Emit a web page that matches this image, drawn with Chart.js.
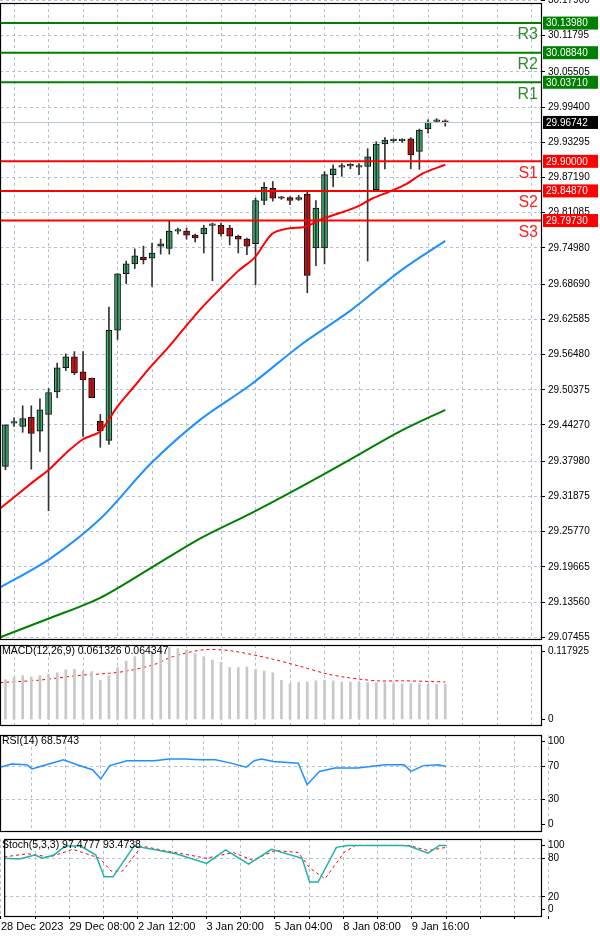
<!DOCTYPE html>
<html><head><meta charset="utf-8">
<script src="https://cdn.jsdelivr.net/npm/chart.js@4"></script>
<style>
body{margin:0;background:#fff;width:600px;height:938px;overflow:hidden;position:relative;font-family:"Liberation Sans",Arial,sans-serif}
.p{position:absolute;left:0;width:600px}
.lbl{position:absolute;left:2px;font-size:10.5px;color:#000;font-family:"Liberation Sans",Arial,sans-serif;white-space:nowrap}
</style></head><body>
<div class="p" style="top:-6px;height:654px"><canvas id="c1"></canvas></div>
<div class="p" style="top:636px;height:98px"><canvas id="c2"></canvas></div>
<div class="p" style="top:726px;height:114px"><canvas id="c3"></canvas></div>
<div class="p" style="top:830px;height:108px"><canvas id="c4"></canvas></div>
<div class="lbl" style="top:644px">MACD(12,26,9) 0.061326 0.064347</div>
<div class="lbl" style="top:734px">RSI(14) 68.5743</div>
<div class="lbl" style="top:838px">Stoch(5,3,3) 97.4777 93.4738</div>
<script>
const openV=[29.371,29.446,29.440,29.456,29.432,29.461,29.500,29.542,29.561,29.535,29.524,29.449,29.416,29.607,29.705,29.722,29.734,29.732,29.753,29.749,29.779,29.779,29.772,29.774,29.789,29.789,29.784,29.770,29.765,29.757,29.832,29.853,29.837,29.837,29.834,29.843,29.750,29.750,29.877,29.890,29.892,29.890,29.891,29.851,29.930,29.936,29.936,29.939,29.917,29.956,29.969,29.970];
const highV=[29.443,29.455,29.476,29.476,29.488,29.506,29.550,29.566,29.570,29.570,29.524,29.461,29.647,29.705,29.727,29.748,29.753,29.758,29.765,29.796,29.784,29.784,29.774,29.789,29.793,29.793,29.789,29.772,29.767,29.836,29.863,29.865,29.839,29.839,29.841,29.848,29.832,29.882,29.894,29.896,29.896,29.896,29.922,29.934,29.941,29.939,29.939,29.941,29.956,29.972,29.974,29.972];
const lowV=[29.365,29.440,29.430,29.366,29.397,29.294,29.490,29.537,29.530,29.423,29.490,29.404,29.409,29.591,29.688,29.714,29.722,29.683,29.739,29.739,29.774,29.765,29.760,29.741,29.693,29.770,29.755,29.741,29.738,29.686,29.825,29.831,29.834,29.825,29.832,29.672,29.719,29.722,29.856,29.874,29.887,29.877,29.727,29.851,29.887,29.933,29.933,29.887,29.886,29.949,29.967,29.961];
const closeV=[29.443,29.448,29.454,29.428,29.469,29.499,29.542,29.561,29.533,29.521,29.490,29.433,29.607,29.705,29.722,29.736,29.729,29.741,29.757,29.779,29.780,29.772,29.767,29.784,29.790,29.774,29.770,29.765,29.753,29.832,29.855,29.836,29.836,29.832,29.837,29.702,29.819,29.877,29.887,29.891,29.893,29.891,29.908,29.930,29.937,29.937,29.937,29.911,29.954,29.968,29.972,29.96742];
const maRedX=[-0.7,3.2,5.1,7.1,9,11,13,14.9,16.8,18.8,20.7,22.7,24.7,27,28.9,30.9,32.9,34.7,36.7,38.7,40.6,42.6,44.6,46.4,48.4,51];
const maRedY=[29.297,29.344,29.366,29.395,29.418,29.432,29.475,29.509,29.543,29.576,29.610,29.645,29.676,29.710,29.733,29.774,29.784,29.786,29.800,29.810,29.820,29.836,29.848,29.860,29.879,29.894];
const maX=[-0.7,5.2,11,16.8,22.6,28.4,34.2,40,45.8,51];
const maBlueY=[29.160,29.211,29.280,29.375,29.452,29.512,29.581,29.641,29.710,29.762];
const maGreenY=[29.074,29.108,29.143,29.194,29.246,29.289,29.335,29.383,29.432,29.469];
const priceTicks=[30.17900,30.11795,30.05505,29.99400,29.93295,29.87190,29.81085,29.74980,29.68690,29.62585,29.56480,29.50375,29.44270,29.37980,29.31875,29.25770,29.19665,29.13560,29.07455];
const levelNames=["R3","R2","R1","S1","S2","S3"];
const levelValues=[30.13980,30.08840,30.03710,29.90000,29.84870,29.79730];
const lastPrice=29.96742;
const macdHist=[0.069,0.073,0.076,0.074,0.076,0.079,0.081,0.086,0.087,0.084,0.083,0.068,0.076,0.090,0.101,0.109,0.114,0.118,0.123,0.125,0.123,0.121,0.114,0.109,0.103,0.099,0.090,0.090,0.091,0.087,0.084,0.081,0.068,0.062,0.064,0.065,0.067,0.068,0.067,0.065,0.065,0.065,0.064,0.064,0.064,0.062,0.062,0.062,0.062,0.061,0.061,0.061];
const macdSigX=[-0.6,3.8,8.3,11.9,14.1,17.2,19.4,23,26.2,30.6,34.2,37.3,39.5,43.1,46.2,51];
const macdSigY=[0.064,0.068,0.076,0.080,0.084,0.095,0.109,0.121,0.119,0.106,0.092,0.079,0.073,0.067,0.067,0.065];
const rsiZX=[0,30,70,83,120,165,200,240,262,285,330,400,440,480,520,560,600,640,660,680,710,775,798,830,870,930,1000,1050,1068,1100,1140,1158];
const rsiY=[69,73,72,67,72,78,72,66,55,71,77,77,79,79,78,78,74,69,77,79,76,74,48,64,68,68,72,72,64,71,72,70];
const stKZX=[0,40,80,100,130,160,200,240,262,285,340,400,450,530,580,640,700,780,800,822,870,900,980,1040,1060,1110,1140,1158];
const stKY=[80,79,85,80,85,99,99,85,51,51,99,93,87,72,93,71,94,80,43,43,97,100,100,100,99,88,100,100];
const stDZX=[0,60,120,180,250,280,310,360,420,530,600,650,710,770,800,840,890,920,1000,1060,1110,1158];
const stDY=[82,87,82,94,80,60,60,99,92,80,89,77,92,89,65,48,89,100,100,100,92,97];
const timeLabels={"-1":"28 Dec 2023","7":"29 Dec 08:00","15":"2 Jan 12:00","23":"3 Jan 20:00","31":"5 Jan 04:00","39":"8 Jan 08:00","47":"9 Jan 16:00"};

const zxToIdx=z=>(z/2.6-5.4)/8.62;
const pts=(xs,ys)=>xs.map((x,i)=>({x:x,y:ys[i]}));
const XMIN=-0.63,XMAX=62.1;
const FONT={family:"Liberation Sans",size:10};
const gridTicks=[];for(let i=-1;i<=63;i+=4)gridTicks.push(i);
function xScale(show){
  return {type:'linear',min:XMIN,max:XMAX,offset:false,
    afterBuildTicks:s=>{s.ticks=gridTicks.map(v=>({value:v}));},
    grid:{color:'#b4c0d4',lineWidth:1,drawTicks:show,tickLength:show?3:0,tickColor:'#000'},
    border:{display:false,dash:[3,3]},
    ticks:{display:show,autoSkip:false,maxRotation:0,align:'start',padding:1,color:'#000',font:{family:"Liberation Sans",size:11},
      callback:v=>timeLabels[String(v)]||''},
    afterFit:s=>{if(!show)s.height=0;else s.height=22;}};
}
function yScale(min,max,ticks,gridVals,fmt){
  return {type:'linear',position:'right',min:min,max:max,
    afterBuildTicks:s=>{s.ticks=ticks.map(v=>({value:v}));},
    afterFit:s=>{s.width=59;},
    grid:{color:ctx=>(gridVals===null||gridVals.includes(ctx.tick&&ctx.tick.value))?'#b4c0d4':'rgba(0,0,0,0)',drawTicks:true,tickLength:4,tickColor:'#000'},
    border:{display:false,dash:[3,3]},
    ticks:{color:'#000',font:FONT,padding:3,callback:fmt}};
}
const framePlugin={id:'frame',afterDraw(c){const a=c.chartArea,x=c.ctx;x.save();x.strokeStyle='#000';x.lineWidth=1.2;x.strokeRect(a.left+0.5,a.top+0.5,a.right-a.left,a.bottom-a.top);x.restore();}};
Chart.defaults.animation=false;
Chart.defaults.responsive=true;Chart.defaults.maintainAspectRatio=false;
Chart.defaults.plugins.legend.display=false;Chart.defaults.plugins.tooltip.enabled=false;
const opt=(x,y)=>({layout:{padding:0},scales:{x:x,y:y}});

const levelPlugin={id:'levels',afterDatasetsDraw(c){
  const ys=c.scales.y,a=c.chartArea,ctx=c.ctx;ctx.save();
  let py=Math.round(ys.getPixelForValue(lastPrice))+0.5;
  ctx.strokeStyle='#b8c4d4';ctx.lineWidth=1;ctx.beginPath();ctx.moveTo(a.left,py);ctx.lineTo(a.right,py);ctx.stroke();
  levelValues.forEach((v,i)=>{const y=ys.getPixelForValue(v);const col=levelNames[i][0]==='R'?'#008000':'#ff0000';
    ctx.strokeStyle=col;ctx.lineWidth=2;ctx.beginPath();ctx.moveTo(a.left,y);ctx.lineTo(a.right,y);ctx.stroke();
    ctx.fillStyle=levelNames[i][0]==='R'?'#2e8b2e':'#ff2020';ctx.font='16px "Liberation Sans"';ctx.textAlign='right';ctx.textBaseline='middle';
    ctx.fillText(levelNames[i],a.right-3,y+12);});
  ctx.restore();
},afterDraw(c){
  const ys=c.scales.y,a=c.chartArea,ctx=c.ctx;ctx.save();
  const box=(v,bg)=>{const y=ys.getPixelForValue(v);ctx.fillStyle=bg;ctx.fillRect(a.right+2,y-6.5,55,13);
    ctx.fillStyle='#fff';ctx.font='10px "Liberation Sans"';ctx.textAlign='left';ctx.textBaseline='middle';ctx.fillText(v.toFixed(5),a.right+5,y+0.5);};
  levelValues.forEach((v,i)=>box(v,levelNames[i][0]==='R'?'#008000':'#ff0000'));
  box(lastPrice,'#000');
  ctx.restore();
}};

const idx=openV.map((_,i)=>i);
const bodyCol=idx.map(i=>closeV[i]>=openV[i]?'#3cb371':'#ff0000');
new Chart(document.getElementById('c1'),{type:'bar',
  data:{datasets:[
    {type:'line',data:pts(maX,maGreenY),borderColor:'#008000',borderWidth:2,pointRadius:0,tension:0.3},
    {type:'line',data:pts(maX,maBlueY),borderColor:'#1e90ff',borderWidth:2,pointRadius:0,tension:0.3},
    {type:'line',data:pts(maRedX,maRedY),borderColor:'#ff0000',borderWidth:2,pointRadius:0,tension:0.3},
    {data:idx.map(i=>({x:i,y:[lowV[i],highV[i]]})),backgroundColor:'#333',barThickness:1,grouped:false},
    {data:idx.map(i=>({x:i,y:[openV[i],closeV[i]]})),backgroundColor:bodyCol,borderColor:'#000',borderWidth:1,borderSkipped:false,barThickness:6,minBarLength:1.5,grouped:false}
  ]},
  options:opt(xScale(false),yScale(29.0715,30.1746,priceTicks,null,v=>v.toFixed(5))),
  plugins:[levelPlugin,framePlugin]});

new Chart(document.getElementById('c2'),{type:'bar',
  data:{datasets:[
    {data:idx.map(i=>({x:i,y:macdHist[i]})),backgroundColor:'#c8c8c8',barThickness:2,grouped:false},
    {type:'line',data:pts(macdSigX,macdSigY),borderColor:'#ff0000',borderWidth:1,borderDash:[3,3],pointRadius:0,tension:0.3}
  ]},
  options:opt(xScale(false),yScale(-0.0097,0.1292,[0.117925,0],[],v=>v===0?'0':'0.117925')),
  plugins:[framePlugin]});

new Chart(document.getElementById('c3'),{type:'line',
  data:{datasets:[{data:pts(rsiZX.map(zxToIdx),rsiY),borderColor:'#1e90ff',borderWidth:1.5,pointRadius:0}]},
  options:opt(xScale(false),yScale(-8,108,[100,70,30,0],[70,30],v=>String(v))),
  plugins:[framePlugin]});

new Chart(document.getElementById('c4'),{type:'line',
  data:{datasets:[
    {data:pts(stKZX.map(zxToIdx),stKY),borderColor:'#20b2aa',borderWidth:1.5,pointRadius:0},
    {data:pts(stDZX.map(zxToIdx),stDY),borderColor:'#ff0000',borderWidth:1,borderDash:[3,3],pointRadius:0}
  ]},
  options:opt(xScale(true),yScale(-10,110,[100,80,20,0],[80,20],v=>String(v))),
  plugins:[framePlugin]});
</script></body></html>
